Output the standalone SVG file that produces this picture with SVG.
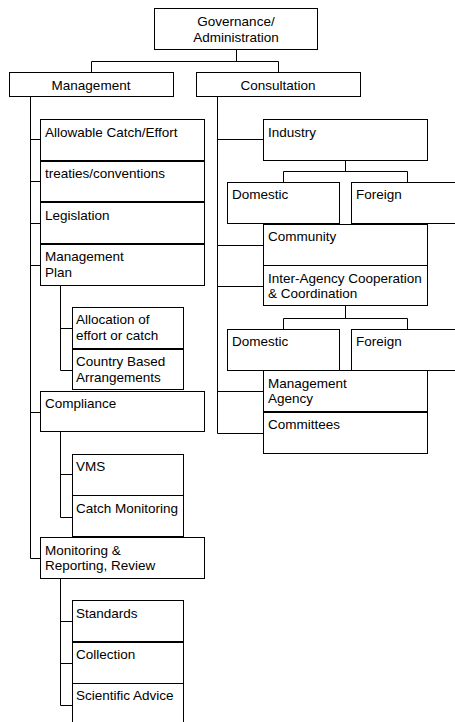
<svg xmlns="http://www.w3.org/2000/svg" width="455" height="722" viewBox="0 0 455 722">
<style>
.b{fill:#fff;stroke:#000;stroke-width:1}
.c{fill:none;stroke:#000;stroke-width:1}
text{font-family:"Liberation Sans",Arial,sans-serif;font-size:13.5px;fill:#000}
.m{text-anchor:middle}
</style>
<rect width="455" height="722" fill="#fff"/>
<g id="connectors">
<path class="c" d="M236.5 50V61.5M91.5 72V61.5H278.5V72"/>
<path class="c" d="M30.5 97V558.5H40M30.5 139.5H40M30.5 181.5H40M30.5 223.5H40M30.5 265.5H40M30.5 412.5H40"/>
<path class="c" d="M60.5 286V370.5H72M60.5 328.5H72"/>
<path class="c" d="M60.5 432V517.5H72M60.5 474.5H72"/>
<path class="c" d="M60.5 579V705.5H72M60.5 621.5H72M60.5 663.5H72"/>
<path class="c" d="M217.5 97V433.5H263M217.5 139.5H263M217.5 245.5H263M217.5 286.5H263M217.5 391.5H263"/>
<path class="c" d="M345.5 160V171.5M283.5 182V171.5H407.5V182"/>
<path class="c" d="M345.5 306V318.5M283.5 329V318.5H407.5V329"/>
</g>
<g id="governance"><rect class="b" x="154.5" y="8.5" width="163" height="41"/><text class="m" x="236" y="25.5">Governance/</text><text class="m" x="236" y="41.5">Administration</text></g>
<g id="management"><rect class="b" x="9.5" y="72.5" width="164" height="24"/><text class="m" x="91" y="90">Management</text></g>
<g id="consultation"><rect class="b" x="196.5" y="72.5" width="164" height="24"/><text class="m" x="278" y="90">Consultation</text></g>
<g id="allowable"><rect class="b" x="40.5" y="119.5" width="164" height="41"/><text x="45" y="136.5">Allowable Catch/Effort</text></g>
<g id="treaties"><rect class="b" x="40.5" y="161.5" width="164" height="40"/><text x="45" y="178">treaties/conventions</text></g>
<g id="legislation"><rect class="b" x="40.5" y="202.5" width="164" height="41"/><text x="45" y="219.5">Legislation</text></g>
<g id="mgmtplan"><rect class="b" x="40.5" y="244.5" width="164" height="41"/><text x="45" y="261">Management</text><text x="45" y="276.5">Plan</text></g>
<g id="allocation"><rect class="b" x="72.5" y="307.5" width="111" height="41"/><text x="76" y="324">Allocation of</text><text x="76" y="339.5">effort or catch</text></g>
<g id="country"><rect class="b" x="72.5" y="349.5" width="111" height="40"/><text x="76" y="366">Country Based</text><text x="76" y="381.5">Arrangements</text></g>
<g id="compliance"><rect class="b" x="40.5" y="391.5" width="164" height="40"/><text x="45" y="408">Compliance</text></g>
<g id="vms"><rect class="b" x="72.5" y="454.5" width="111" height="41"/><text x="76" y="471">VMS</text></g>
<g id="catchmon"><rect class="b" x="72.5" y="495.5" width="111" height="41"/><text x="76" y="512.5">Catch Monitoring</text></g>
<g id="monitoring"><rect class="b" x="40.5" y="537.5" width="164" height="41"/><text x="45" y="554.5">Monitoring &amp;</text><text x="45" y="570">Reporting, Review</text></g>
<g id="standards"><rect class="b" x="72.5" y="600.5" width="111" height="41"/><text x="76" y="617.5">Standards</text></g>
<g id="collection"><rect class="b" x="72.5" y="642.5" width="111" height="41"/><text x="76" y="659">Collection</text></g>
<g id="scientific"><rect class="b" x="72.5" y="683.5" width="111" height="45"/><text x="76" y="700">Scientific Advice</text></g>
<g id="industry"><rect class="b" x="263.5" y="119.5" width="164" height="41"/><text x="268" y="136.5">Industry</text></g>
<g id="domestic1"><rect class="b" x="227.5" y="182.5" width="112" height="41"/><text x="232" y="199">Domestic</text></g>
<g id="foreign1"><rect class="b" x="351.5" y="182.5" width="112" height="41"/><text x="356" y="199">Foreign</text></g>
<g id="community"><rect class="b" x="263.5" y="224.5" width="164" height="41"/><text x="268" y="241">Community</text></g>
<g id="interagency"><rect class="b" x="263.5" y="265.5" width="164" height="40"/><text x="268" y="282.5">Inter-Agency Cooperation</text><text x="268" y="298">&amp; Coordination</text></g>
<g id="domestic2"><rect class="b" x="227.5" y="329.5" width="112" height="41"/><text x="232" y="346">Domestic</text></g>
<g id="foreign2"><rect class="b" x="351.5" y="329.5" width="112" height="41"/><text x="356" y="346">Foreign</text></g>
<g id="mgmtagency"><rect class="b" x="263.5" y="370.5" width="164" height="41"/><text x="268" y="387.5">Management</text><text x="268" y="403">Agency</text></g>
<g id="committees"><rect class="b" x="263.5" y="412.5" width="164" height="41"/><text x="268" y="429">Committees</text></g>
</svg>
